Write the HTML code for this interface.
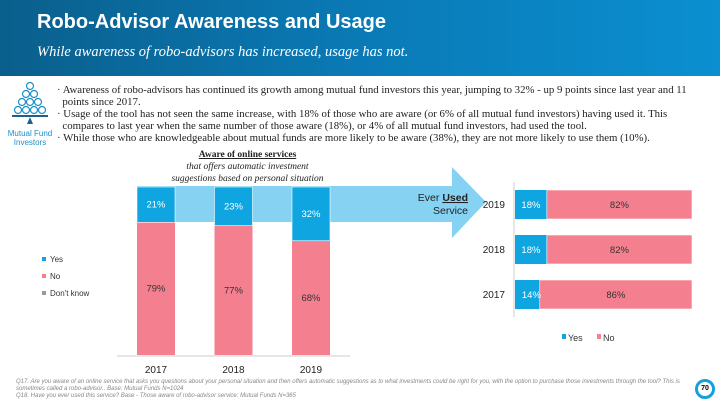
<!DOCTYPE html>
<html><head><meta charset="utf-8"><style>
body{margin:0;width:720px;height:405px;overflow:hidden;background:#fff;font-family:"Liberation Sans",sans-serif;position:relative}
.abs{position:absolute}
#hdr{left:0;top:0;width:720px;height:76px;background:linear-gradient(90deg,#0a5f8c 0%,#0a7ab6 50%,#0b8fd0 100%)}
.bul{font-family:"Liberation Serif",serif;font-size:10.8px;color:#222;line-height:12px;white-space:nowrap}
</style></head><body>
<div id="hdr" class="abs"></div>
<div class="abs" style="left:37px;top:11px;color:#fff;font-weight:bold;font-size:20px">Robo-Advisor Awareness and Usage</div>
<div class="abs" style="left:37px;top:44px;color:#fff;font-style:italic;font-family:'Liberation Serif',serif;font-size:14.5px">While awareness of robo-advisors has increased, usage has not.</div>

<svg class="abs" style="left:0;top:80px" width="60" height="70">
<g fill="none" stroke="#1a8fc9" stroke-width="1.2">
<circle cx="30" cy="6" r="3.5"/>
<circle cx="26" cy="14" r="3.5"/><circle cx="34" cy="14" r="3.5"/>
<circle cx="22" cy="22" r="3.5"/><circle cx="30" cy="22" r="3.5"/><circle cx="38" cy="22" r="3.5"/>
<circle cx="18" cy="30" r="3.5"/><circle cx="26" cy="30" r="3.5"/><circle cx="34" cy="30" r="3.5"/><circle cx="42" cy="30" r="3.5"/>
</g><rect x="12" y="35" width="36" height="2" fill="#1f5f8a"/><polygon points="30,37 27,44 33,44" fill="#1f5f8a"/>
</svg>
<div class="abs" style="left:2px;top:129px;width:56px;text-align:center;color:#1a8fc9;font-size:8px;line-height:9px">Mutual Fund<br>Investors</div>

<div class="abs bul" style="left:57px;top:84px;width:650px">
· Awareness of robo-advisors has continued its growth among mutual fund investors this year, jumping to 32% - up 9 points since last year and 11<br>&nbsp;&nbsp;points since 2017.<br>
· Usage of the tool has not seen the same increase, with 18% of those who are aware (or 6% of all mutual fund investors) having used it. This<br>&nbsp;&nbsp;compares to last year when the same number of those aware (18%), or 4% of all mutual fund investors, had used the tool.<br>
· While those who are knowledgeable about mutual funds are more likely to be aware (38%), they are not more likely to use them (10%).</div>

<div class="abs" style="left:130px;top:149px;width:235px;text-align:center;font-family:'Liberation Serif',serif;font-size:9.5px;line-height:12px;color:#222"><b style="text-decoration:underline">Aware of online services</b><br><i>that offers automatic investment<br>suggestions based on personal situation</i></div>

<svg id="chart" class="abs" style="left:0;top:0" width="720" height="405"></svg>

<div class="abs" style="left:16px;top:379px;width:680px;font-style:italic;font-size:6px;line-height:7px;color:#888">Q17. Are you aware of an online service that asks you questions about your personal situation and then offers automatic suggestions as to what investments could be right for you, with the option to purchase those investments through the tool? This is sometimes called a robo-advisor.. Base: Mutual Funds N=1024<br>Q18. Have you ever used this service? Base - Those aware of robo-advisor service: Mutual Funds N=365</div>
<div class="abs" style="left:695px;top:379px;width:14px;height:14px;border:3px solid #14a0dc;border-radius:50%;font-size:7px;font-weight:bold;text-align:center;line-height:14px">70</div>

<script>
const ns="http://www.w3.org/2000/svg";
const svg=document.getElementById('chart');
function mk(t,a,txt){const e=document.createElementNS(ns,t);for(const k in a)e.setAttribute(k,a[k]);if(txt!==undefined)e.textContent=txt;svg.appendChild(e);return e;}
const awareYears=["2017","2018","2019"];
const awareYes=[21,23,32];
const awareNo=[79,77,68];
const usedYears=["2019","2018","2017"];
const usedYes=[18,18,14];
const usedNo=[82,82,86];
const BLUE="#0ea5e0",PINK="#f4808f";

let a=mk('polygon',{points:"137,186 452,186 452,167 486,202 452,238 452,222 137,222",fill:"#86d2f3"});


let t=mk('text',{x:468,y:201,'text-anchor':'end','font-size':10.5,fill:'#222'});
t.innerHTML='Ever <tspan font-weight="bold" text-decoration="underline">Used</tspan>';


t=mk('text',{x:468,y:214,'text-anchor':'end','font-size':10.5,fill:'#222'},'Service');



const y0=355,H=168;
const yv=v=>y0-v/100*H;
const xc=i=>156+i*77.5;
awareYears.forEach((yr,i)=>{
  const x=xc(i)-19;
  let r=mk('rect',{x:x,y:yv(awareNo[i]),width:38,height:y0-yv(awareNo[i]),fill:PINK});
  
  
  r=mk('rect',{x:x,y:yv(awareNo[i]+awareYes[i]),width:38,height:awareYes[i]/100*H,fill:BLUE,stroke:'#fff','stroke-width':0.6});
  
  
  let l=mk('text',{x:xc(i),y:(yv(awareNo[i]+awareYes[i])+yv(awareNo[i]))/2+3,'text-anchor':'middle','font-size':9.5,fill:'#fff'},awareYes[i]+'%');
  
  
  l=mk('text',{x:xc(i),y:(yv(awareNo[i])+y0)/2+3,'text-anchor':'middle','font-size':9.5,fill:'#333'},awareNo[i]+'%');
  
  
  l=mk('text',{x:xc(i),y:373,'text-anchor':'middle','font-size':10,fill:'#222'},yr);
  
  
});
let ax=mk('line',{x1:117,y1:356,x2:350,y2:356,stroke:'#ccc','stroke-width':1});


[["Yes",BLUE,261],["No",PINK,278],["Don't know","#999",295]].forEach(([n,c,y])=>{
  let s=mk('rect',{x:42,y:y-4,width:4,height:4,fill:c});
  
  
  let tx=mk('text',{x:50,y:y+1,'font-size':8,fill:'#333'},n);
  
  
});

const x0=515,W=177;
const xv=v=>x0+v/100*W;
const yr0=i=>190+i*45;
let ax2=mk('line',{x1:514,y1:182,x2:514,y2:317,stroke:'#ccc','stroke-width':1});


usedYears.forEach((yr,i)=>{
  const y=yr0(i);
  let r=mk('rect',{x:x0,y:y,width:xv(usedYes[i])-x0,height:29,fill:BLUE});
  
  
  r=mk('rect',{x:xv(usedYes[i]),y:y,width:xv(usedYes[i]+usedNo[i])-xv(usedYes[i]),height:29,fill:PINK,stroke:'#fff','stroke-width':0.6});
  
  
  let l=mk('text',{x:(x0+xv(usedYes[i]))/2+(usedYes[i]<16?4:0),y:y+18,'text-anchor':'middle','font-size':9.5,fill:'#fff'},usedYes[i]+'%');
  
  
  l=mk('text',{x:(xv(usedYes[i])+xv(100))/2,y:y+18,'text-anchor':'middle','font-size':9.5,fill:'#333'},usedNo[i]+'%');
  
  
  l=mk('text',{x:505,y:y+18,'text-anchor':'end','font-size':10,fill:'#222'},yr);
  
  
});
[["Yes",BLUE,562],["No",PINK,597]].forEach(([n,c,x])=>{
  let s=mk('rect',{x:x,y:334,width:4,height:5,fill:c});
  
  
  let tx=mk('text',{x:x+6,y:341,'font-size':9,fill:'#333'},n);
  
  
});
</script>
</body></html>
